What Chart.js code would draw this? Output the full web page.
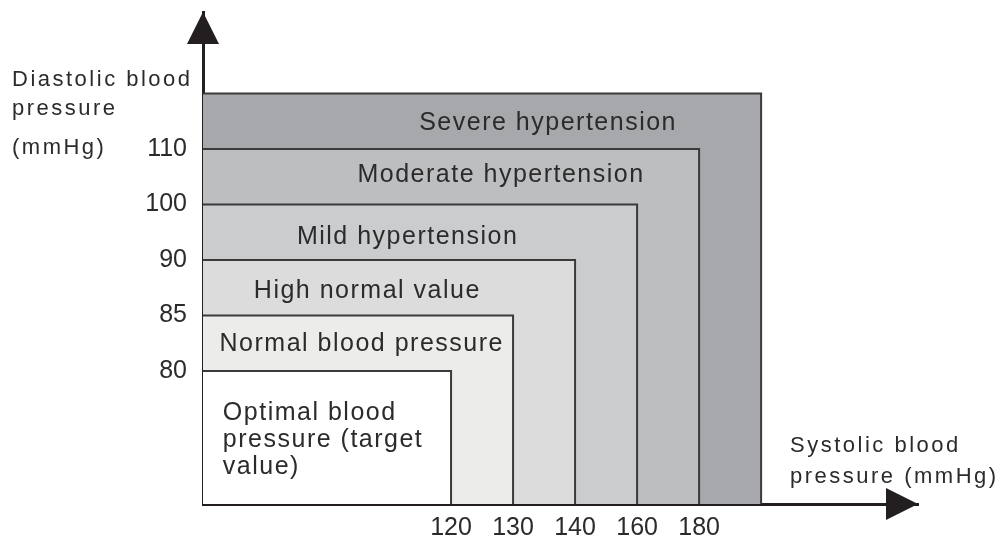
<!DOCTYPE html>
<html><head><meta charset="utf-8">
<script src="https://cdn.jsdelivr.net/npm/chart.js@4"></script>
<style>html,body{margin:0;padding:0;background:#fff}canvas{display:block}</style>
</head><body>
<canvas id="c" width="1003" height="541"></canvas>
<script>
// ---- data ----
const categories = ['Optimal blood pressure (target value)', 'Normal blood pressure', 'High normal value', 'Mild hypertension', 'Moderate hypertension', 'Severe hypertension'];
const systolicUpper = [120, 130, 140, 160, 180, null];   // null = open-ended
const diastolicUpper = [80, 85, 90, 100, 110, null];
const systolicTicks = [120, 130, 140, 160, 180];
const diastolicTicks = [80, 85, 90, 100, 110];
const yTitleLines = ['Diastolic blood', 'pressure', '(mmHg)'];
const xTitleLines = ['Systolic blood', 'pressure (mmHg)'];

// ---- styles / layout ----
const fillColors = ['#ffffff', '#ececea', '#dcdcdc', '#cbccce', '#bdbec0', '#a7a8ab'];
const edgeColor = '#3a3a3a';
const axisColor = '#231f20';
const textColor = '#2b2b2b';
const FONT = '"Liberation Sans", Arial, Helvetica, sans-serif';
const X_MIN = -4, X_MAX = 7.53, Y_MIN = -2.4, Y_MAX = 6.47;
// label anchors in scale (index) units
const labelLayout = [
  {x: -3.68, y: -0.768, align: 'left', lines: ['Optimal blood', 'pressure (target', 'value)'], step: 27},
  {x: -1.44, y: 0.485, align: 'center'},
  {x: -1.35, y: 1.44, align: 'center'},
  {x: -0.70, y: 2.405, align: 'center'},
  {x: 0.806, y: 3.53, align: 'center'},
  {x: 1.565, y: 4.47, align: 'center'}
];

const idx = (v, ticks) => v === null ? ticks.length : ticks.indexOf(v);

const datasets = categories.map((name, i) => {
  const xr = idx(systolicUpper[i], systolicTicks);
  const yt = idx(diastolicUpper[i], diastolicTicks);
  return {
    label: name,
    data: [{x: X_MIN, y: yt}, {x: xr, y: yt}, {x: xr, y: Y_MIN}],
    borderColor: edgeColor,
    borderWidth: 2,
    backgroundColor: fillColors[i],
    fill: 'start',
    pointRadius: 0,
    tension: 0,
    clip: false
  };
});

const decor = {
  id: 'decor',
  afterDraw(chart) {
    const {ctx, chartArea: a, scales: {x, y}} = chart;
    ctx.save();
    // arrows
    ctx.fillStyle = axisColor;
    ctx.beginPath();
    ctx.moveTo(a.left, a.top);
    ctx.lineTo(a.left - 16, a.top + 32);
    ctx.lineTo(a.left + 16, a.top + 32);
    ctx.closePath();
    ctx.fill();
    ctx.beginPath();
    ctx.moveTo(a.right, a.bottom);
    ctx.lineTo(a.right - 32, a.bottom - 16);
    ctx.lineTo(a.right - 32, a.bottom + 16);
    ctx.closePath();
    ctx.fill();
    // region labels
    ctx.fillStyle = textColor;
    ctx.font = '25px ' + FONT;
    ctx.letterSpacing = '1.5px';
    ctx.textBaseline = 'middle';
    labelLayout.forEach((L, i) => {
      ctx.textAlign = L.align;
      const lines = L.lines || [categories[i]];
      const px = x.getPixelForValue(L.x);
      const py = y.getPixelForValue(L.y);
      lines.forEach((t, k) => ctx.fillText(t, px, py + k * (L.step || 0)));
    });
    // axis titles
    ctx.font = '22px ' + FONT;
    ctx.letterSpacing = '2.5px';
    ctx.textAlign = 'left';
    ctx.textBaseline = 'alphabetic';
    const yBase = [86, 115, 154];
    yTitleLines.forEach((t, k) => ctx.fillText(t, 12, yBase[k]));
    const xBase = [452, 483];
    xTitleLines.forEach((t, k) => ctx.fillText(t, 790, xBase[k]));
    ctx.restore();
  }
};

new Chart(document.getElementById('c'), {
  type: 'line',
  data: {datasets},
  options: {
    responsive: false,
    animation: false,
    events: [],
    layout: {padding: {left: 0, top: 12, right: 85, bottom: 0}},
    plugins: {legend: {display: false}, tooltip: {enabled: false}},
    scales: {
      x: {
        type: 'linear', min: X_MIN, max: X_MAX, z: 1,
        grid: {display: true, drawOnChartArea: false, drawTicks: false},
        border: {display: true, color: axisColor, width: 3},
        afterBuildTicks: s => { s.ticks = systolicTicks.map((v, i) => ({value: i})); },
        afterFit: s => { s.height = 37; s.paddingLeft = 0; s.paddingRight = 0; },
        ticks: {
          padding: 9, color: '#2b2b2b', maxRotation: 0, autoSkip: false,
          font: {size: 25, family: FONT},
          callback: v => systolicTicks[v]
        }
      },
      y: {
        type: 'linear', min: Y_MIN, max: Y_MAX, z: 1,
        grid: {display: true, drawOnChartArea: false, drawTicks: false},
        border: {display: true, color: axisColor, width: 3},
        afterBuildTicks: s => { s.ticks = diastolicTicks.map((v, i) => ({value: i})); },
        afterFit: s => { s.width = 203; s.paddingTop = 0; s.paddingBottom = 0; },
        ticks: {
          padding: 16, color: '#2b2b2b', autoSkip: false,
          font: {size: 25, family: FONT},
          callback: v => diastolicTicks[v]
        }
      }
    }
  },
  plugins: [decor]
});
</script>
</body></html>
